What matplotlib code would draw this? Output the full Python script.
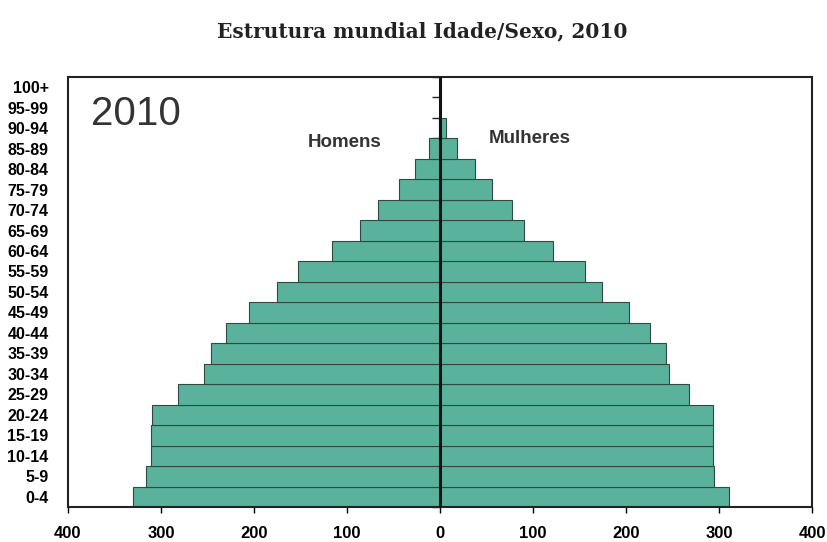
import matplotlib
matplotlib.use("Agg")
import matplotlib.pyplot as plt
from matplotlib.markers import TICKLEFT
import numpy as np

# age groups, bottom to top
ages = ["0-4", "5-9", "10-14", "15-19", "20-24", "25-29", "30-34", "35-39",
        "40-44", "45-49", "50-54", "55-59", "60-64", "65-69", "70-74",
        "75-79", "80-84", "85-89", "90-94", "95-99", "100+"]
# millions (top two groups too small to see)
homens = [330, 316, 311, 311, 310, 282, 254, 246, 230, 205, 175, 153, 116,
          86, 67, 44, 27, 12, 1.5, 0, 0]
mulheres = [311, 295, 293, 293, 293, 268, 246, 243, 226, 203, 174, 156, 121,
            90, 77, 56, 38, 18, 6, 0, 0]
xticks = [-400, -300, -200, -100, 0, 100, 200, 300, 400]

BAR = "#5ab29c"
EDGE = "#2f4a40"

fig = plt.figure(figsize=(8.27, 5.42), dpi=100)
ax = fig.add_axes([0.0822, 0.0646, 0.8998, 0.7934])

y = np.arange(len(ages))
ax.barh(y, -np.array(homens), height=1.0, color=BAR, edgecolor=EDGE, linewidth=0.8, zorder=2)
ax.barh(y, mulheres, height=1.0, color=BAR, edgecolor=EDGE, linewidth=0.8, zorder=2)

ax.set_xlim(-400, 400)
ax.set_ylim(-0.5, len(ages) - 0.5)
ax.set_xticks(xticks)
ax.set_xticklabels([str(abs(v)) for v in xticks], fontsize=12, fontweight="bold",
                   family="Liberation Sans")
ax.set_yticks(y)
ax.set_yticklabels(ages, fontsize=11.5, fontweight="bold", family="Liberation Sans")
ax.tick_params(axis="y", length=0, pad=14)
ax.tick_params(axis="x", length=4, width=1, direction="out", pad=10)
for s in ax.spines.values():
    s.set_linewidth(1.5)
    s.set_color("#222222")

# centre axis, with small ticks between categories (hidden behind the bars)
ax.axvline(0, color="#111111", lw=2.2, zorder=5)
bounds = np.arange(len(ages) + 1) - 0.5
ax.plot(np.zeros_like(bounds), bounds, ls="none", marker=TICKLEFT, ms=6, mew=1,
        color="#222222", zorder=1, clip_on=False)

ax.text(-103, 17.3, "Homens", ha="center", va="center", fontsize=13.5,
        fontweight="bold", family="Liberation Sans", color="#333333")
ax.text(96, 17.5, "Mulheres", ha="center", va="center", fontsize=13.5,
        fontweight="bold", family="Liberation Sans", color="#333333")
ax.text(-327, 18.7, "2010", ha="center", va="center", fontsize=29,
        family="Liberation Sans", color="#333333")

fig.text(0.51, 0.943, "Estrutura mundial Idade/Sexo, 2010", ha="center", va="center",
         fontsize=14.5, fontweight="bold", family="DejaVu Serif", color="#222222")

fig.savefig("out.png", dpi=100)
